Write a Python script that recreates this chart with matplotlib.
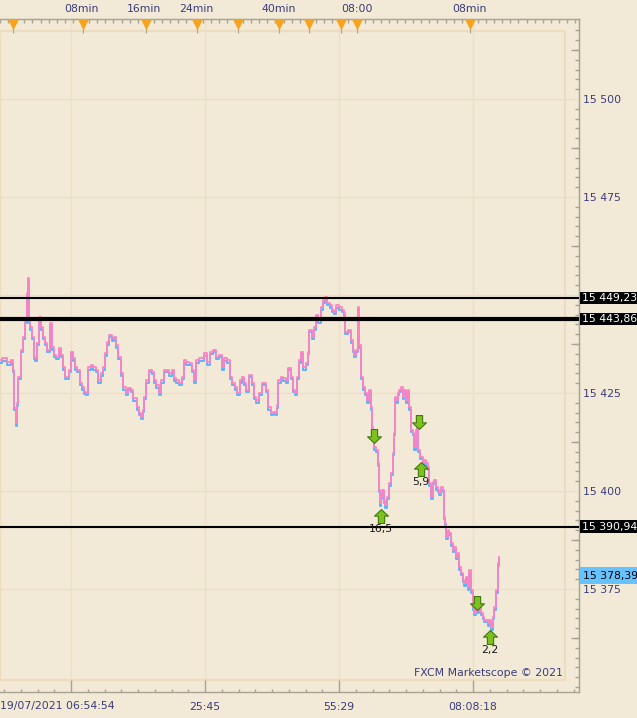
import matplotlib
matplotlib.use('Agg')
import matplotlib.pyplot as plt
import matplotlib.transforms as mtransforms
from matplotlib.path import Path
from matplotlib.patches import Rectangle
import numpy as np

# ---------------- data ----------------
bar = [0, 3, 10, 12, 13, 15, 16, 17, 19, 22, 24, 26, 27, 28, 29, 31, 33, 34, 36, 38,
       40, 42, 43, 46, 48, 51, 53, 55, 57, 60, 62, 64, 66, 68, 70, 72, 74, 76, 78, 81,
       83, 85, 87, 89, 92, 94, 97, 99, 102, 104, 106, 108, 110, 113, 115, 117, 119, 122, 124, 127,
       129, 132, 133, 136, 138, 140, 142, 143, 145, 147, 150, 153, 155, 157, 160, 162, 165, 167, 170, 173,
       175, 177, 180, 183, 185, 187, 190, 193, 195, 197, 200, 203, 205, 208, 212, 214, 217, 220, 223, 225,
       228, 231, 233, 236, 238, 241, 243, 245, 247, 250, 253, 255, 257, 260, 263, 265, 267, 269, 272, 274,
       276, 277, 279, 282, 284, 287, 289, 292, 294, 296, 298, 300, 302, 304, 307, 308, 310, 313, 315, 317,
       319, 322, 323, 326, 328, 331, 333, 335, 337, 340, 343, 344, 345, 347, 349, 352, 353, 355, 357, 358,
       360, 362, 363, 366, 368, 370, 371, 372, 373, 375, 377, 378, 379, 380, 381, 383, 384, 386, 388, 390,
       392, 393, 394, 395, 397, 398, 400, 402, 403, 405, 407, 408, 410, 412, 413, 415, 416, 417, 419, 420,
       422, 423, 425, 427, 428, 430, 432, 433, 435, 437, 438, 440, 442, 443, 444, 445, 447, 448, 450, 452,
       453, 455, 457, 458, 460, 462, 463, 465, 467, 468, 470, 472, 473, 475, 477, 478, 480, 482, 483, 485,
       487, 488, 490, 492, 493, 495, 497, 498, 499]
ask = [15433.4, 15433.9, 15432.9, 15433.4, 15430.9, 15421.2, 15417.3, 15422.4, 15429.1, 15436.0,
       15439.3, 15443.6, 15450.5, 15454.3, 15443.6, 15441.8, 15439.3, 15434.2, 15433.9, 15437.8,
       15444.4, 15441.8, 15439.3, 15437.8, 15436.0, 15442.9, 15436.7, 15434.7, 15434.2, 15436.5,
       15434.7, 15431.6, 15429.1, 15429.1, 15430.9, 15435.5, 15433.9, 15431.6, 15430.9, 15427.6,
       15426.5, 15425.3, 15425.0, 15431.6, 15432.1, 15431.6, 15430.9, 15428.3, 15430.1, 15431.6,
       15435.2, 15438.0, 15439.8, 15439.0, 15439.3, 15437.2, 15434.2, 15430.1, 15426.5, 15425.0,
       15426.3, 15425.8, 15423.7, 15423.7, 15421.4, 15419.9, 15418.9, 15420.7, 15424.0, 15428.3,
       15430.9, 15430.4, 15428.3, 15427.0, 15425.0, 15428.3, 15430.9, 15430.9, 15430.1, 15430.9,
       15428.8, 15428.3, 15427.6, 15429.1, 15433.4, 15432.9, 15432.7, 15430.9, 15428.3, 15433.4,
       15433.9, 15433.9, 15435.2, 15432.9, 15435.5, 15436.0, 15434.2, 15434.7, 15431.6, 15433.9,
       15433.4, 15429.1, 15427.6, 15426.5, 15425.0, 15428.3, 15429.1, 15427.6, 15425.8, 15429.6,
       15427.6, 15424.0, 15423.2, 15425.0, 15427.6, 15427.6, 15425.8, 15421.4, 15419.9, 15420.2,
       15419.9, 15421.9, 15428.3, 15429.1, 15428.8, 15428.3, 15431.4, 15429.1, 15425.8, 15425.0,
       15429.1, 15433.4, 15435.5, 15431.6, 15432.7, 15435.5, 15441.1, 15439.3, 15441.8, 15444.9,
       15443.6, 15446.9, 15448.7, 15449.5, 15448.0, 15447.4, 15446.2, 15445.7, 15447.4, 15446.9,
       15446.2, 15445.4, 15440.6, 15440.6, 15441.1, 15438.5, 15436.0, 15434.7, 15436.0, 15447.0,
       15437.2, 15429.1, 15426.5, 15425.0, 15423.2, 15425.8, 15421.4, 15416.3, 15413.8, 15411.2,
       15410.5, 15407.1, 15400.3, 15396.9, 15398.5, 15400.3, 15397.7, 15396.4, 15398.5, 15402.0,
       15404.6, 15409.7, 15414.8, 15424.0, 15423.2, 15425.0, 15425.8, 15426.5, 15424.0, 15425.8,
       15423.2, 15425.8, 15421.4, 15415.6, 15414.8, 15411.2, 15415.6, 15418.1, 15410.5, 15408.7,
       15408.7, 15407.1, 15407.9, 15407.1, 15406.1, 15402.0, 15398.5, 15402.3, 15402.8, 15401.0,
       15400.3, 15399.5, 15401.0, 15400.3, 15393.4, 15391.8, 15388.3, 15390.1, 15389.3, 15386.7,
       15385.0, 15385.7, 15383.2, 15384.2, 15380.6, 15379.1, 15377.3, 15376.5, 15378.1, 15375.5,
       15379.8, 15374.7, 15370.4, 15368.9, 15372.2, 15369.6, 15370.4, 15368.9, 15367.9, 15367.1,
       15367.1, 15366.3, 15367.1, 15365.3, 15367.9, 15370.4, 15374.7, 15381.6, 15383.2]

levels = [15449.23, 15443.86, 15390.94]
level_labels = ['15 449,23', '15 443,86', '15 390,94']
last_bid = 15378.39
last_bid_label = '15 378,39'

sell_bars = [374, 419, 477]
sell_prices = [15414.0, 15417.6, 15371.4]
buy_bars = [381, 421, 490]
buy_prices = [15393.6, 15405.6, 15362.8]
buy_labels = ['16,5', '5,9', '2,2']

y_ticks = [15375, 15400, 15425, 15450, 15475, 15500]
y_tick_labels = ['15 375', '15 400', '15 425', '', '15 475', '15 500']  # 15 450 hidden under level box
x_tick_bars = [71, 205, 339, 473]
x_tick_labels = ['19/07/2021 06:54:54', '25:45', '55:29', '08:08:18']
event_bars = [13, 83, 146, 197, 238, 279, 309, 341, 357, 470]
top_label_bars = [81, 144, 196, 279, 357, 469]
top_labels = ['08min', '16min', '24min', '40min', '08:00', '08min']
copyright_text = 'FXCM Marketscope \u00a9 2021'

# ---------------- style ----------------
BG = '#F2E9D6'
PANEL = '#EEDCBE'
GRID = '#EDDFC7'
SPINE = '#A9A393'
TXT = '#3C3C78'
PINK = '#FF82C4'
BLUE = '#5CB2FF'
ORANGE = '#F7A31C'
plt.rcParams['font.family'] = ['DejaVu Sans']
FS = 7.8

W, H = 637, 718
fig = plt.figure(figsize=(W / 100, H / 100), dpi=100, facecolor=BG)
ax_left, ax_right, ax_top, ax_bottom = 0, 579, 19, 692
ax = fig.add_axes([ax_left / W, (H - ax_bottom) / H, (ax_right - ax_left) / W, (ax_bottom - ax_top) / H])
ax.set_facecolor(BG)
ax.set_xlim(0, 579)
ax.set_ylim(15348.72, 15520.41)

def px(dx, dy):
    return mtransforms.ScaledTranslation(dx / 100, dy / 100, fig.dpi_scale_trans)

ax.spines['left'].set_visible(False)
for s in ['right', 'top', 'bottom']:
    ax.spines[s].set_color(SPINE)
    ax.spines[s].set_linewidth(1.0)

# inner panel border
axh = ax_bottom - ax_top
ax.add_patch(Rectangle((0, 12 / axh), 565 / 579, (680 - 31) / axh, transform=ax.transAxes,
                       fill=False, ec=PANEL, lw=1.6, zorder=0.5))

# y axis (right)
ax.yaxis.tick_right()
ax.set_yticks(y_ticks)
ax.set_yticklabels(y_tick_labels)
ax.set_yticks(np.arange(15350, 15520, 2.5), minor=True)
ax.tick_params(axis='y', which='major', length=0, pad=3, labelsize=FS, labelcolor=TXT)
ax.tick_params(axis='y', which='minor', direction='in', length=3, width=1, color=SPINE)
sec_y = ax.secondary_yaxis('right')
sec_y.set_yticks(np.arange(15362.5, 15520, 25))
sec_y.tick_params(axis='y', direction='in', length=5.8, width=1, color=SPINE, labelright=False)
sec_y.spines['right'].set_color(SPINE)

# x axis (bottom)
ax.set_xticks(x_tick_bars)
ax.set_xticklabels([''] * len(x_tick_bars))
ax.set_xticks(np.arange(4, 579, 134 / 8), minor=True)
ax.tick_params(axis='x', which='major', direction='in', length=8.6, width=1, color=SPINE)
ax.tick_params(axis='x', which='minor', direction='in', length=2.2, width=1, color=SPINE)
ax.grid(True, which='major', color=GRID, lw=1.0, zorder=0.4)
ax.set_axisbelow(True)

bt = ax.get_xaxis_transform() + px(0, -14.5)
for i, (b, lab) in enumerate(zip(x_tick_bars, x_tick_labels)):
    if i == 0:
        ax.text(ax.get_xlim()[0], 0, lab, transform=bt, ha='left', va='center', fontsize=FS,
                color=TXT, clip_on=False)
    else:
        ax.text(b, 0, lab, transform=bt, ha='center', va='center', fontsize=FS,
                color=TXT, clip_on=False)

# top ruler
sec_x = ax.secondary_xaxis('top')
sec_x.set_xticks(np.arange(0, 579, 8.1))
sec_x.tick_params(axis='x', direction='in', length=3, width=1, color=SPINE, labeltop=False)
sec_x.spines['top'].set_color(SPINE)
ax.vlines(event_bars, 1 - 14 / axh, 1, transform=ax.get_xaxis_transform(), color=SPINE,
          lw=0.8, zorder=5, clip_on=False)
ax.plot(event_bars, [1] * len(event_bars), ls='none', marker='v', ms=6.5, mfc=ORANGE,
        mec=ORANGE, mew=0.5, transform=ax.get_xaxis_transform() + px(0, -4.5),
        clip_on=False, zorder=6)
tt = ax.get_xaxis_transform() + px(0, 10)
for b, lab in zip(top_label_bars, top_labels):
    ax.text(b, 1, lab, transform=tt, ha='center', va='center', fontsize=FS, color=TXT,
            clip_on=False)

# price series (bid drawn slightly below ask)
ax.plot(bar, ask, color=BLUE, lw=1.4, drawstyle='steps-mid',
        transform=ax.transData + px(0, -2.5), zorder=2)
ax.plot(bar, ask, color=PINK, lw=1.3, drawstyle='steps-mid', zorder=3)

# horizontal levels
for lvl, lw in zip(levels, [1.5, 3.0, 1.5]):
    ax.axhline(lvl, color='black', lw=lw, zorder=4)

yt = ax.get_yaxis_transform()
for lvl, lab in zip(levels, level_labels):
    ax.text(1.0, lvl, lab, transform=yt + px(2.5, 0), ha='left', va='center', fontsize=FS,
            color='white', clip_on=False, zorder=8,
            bbox=dict(boxstyle='square,pad=0.1', fc='black', ec='none'))
ax.text(1.0, last_bid, last_bid_label, transform=yt + px(3.8, 0), ha='left', va='center',
        fontsize=FS, color='black', clip_on=False, zorder=8,
        bbox=dict(boxstyle='square,pad=0.3', fc='#66C3FF', ec='none'))

# trade arrows
up_verts = [(0, 1), (1, 0.05), (0.45, 0.05), (0.45, -1), (-0.45, -1), (-0.45, 0.05), (-1, 0.05), (0, 1)]
codes = [Path.MOVETO] + [Path.LINETO] * 6 + [Path.CLOSEPOLY]
up_marker = Path(up_verts, codes)
down_marker = Path([(x, -y) for x, y in up_verts], codes)
ax.plot(sell_bars, sell_prices, ls='none', marker=down_marker, ms=10, mfc='#7CC11E',
        mec='#3E7A0C', mew=0.8, zorder=7)
ax.plot(buy_bars, buy_prices, ls='none', marker=up_marker, ms=10, mfc='#7CC11E',
        mec='#3E7A0C', mew=0.8, zorder=7)
for b, p, lab in zip(buy_bars, buy_prices, buy_labels):
    ax.annotate(lab, (b, p), xytext=(0, -9.5), textcoords='offset points', ha='center',
                va='center', fontsize=FS, color='#1A1A1A', zorder=8)

# copyright
ax.text(563 / 579, 19 / axh, copyright_text, transform=ax.transAxes, ha='right', va='center',
        fontsize=FS, color=TXT, zorder=8)

fig.savefig('out.png', dpi=100, facecolor=BG)
